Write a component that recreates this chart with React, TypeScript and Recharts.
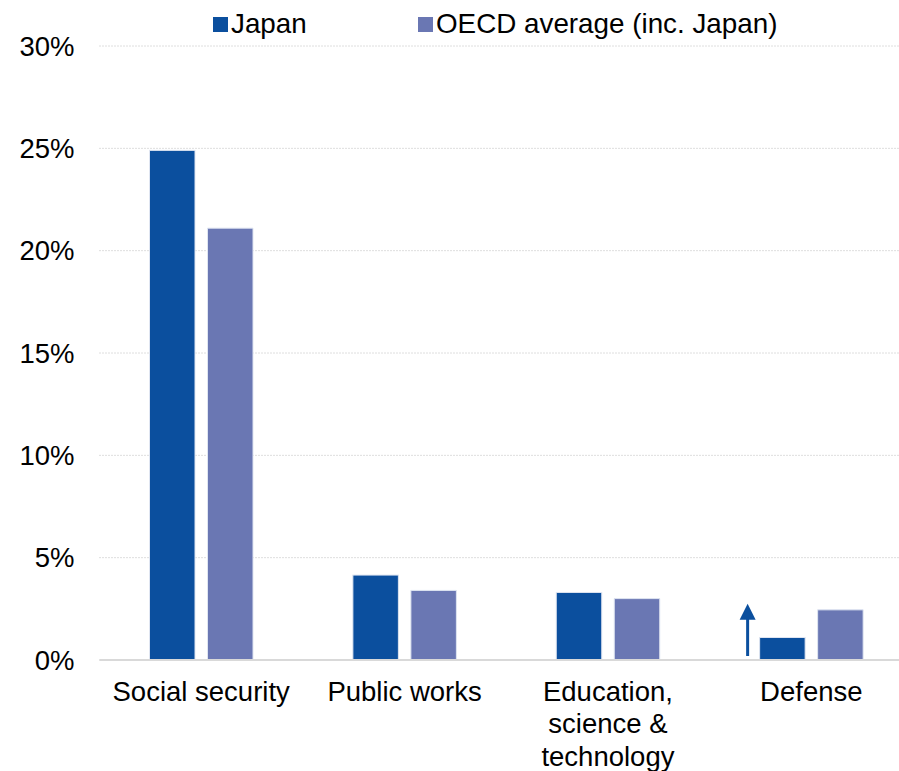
import React from 'react';
import {
  BarChart,
  Bar,
  XAxis,
  YAxis,
  CartesianGrid,
  Legend
} from 'recharts';

const categories = ['Social security', 'Public works', 'Education,\nscience &\ntechnology', 'Defense'];
const japan = [24.9, 4.15, 3.3, 1.1];
const oecd = [21.1, 3.4, 3.0, 2.45];
// where the annotation arrow beside Japan's bar points to
const japanTarget = [null, null, null, 2.75];
const yTicks = [0, 5, 10, 15, 20, 25, 30];

const seriesNames = ['Japan', 'OECD average (inc. Japan)'];
const JAPAN_COLOR = '#0b4f9e';
const OECD_COLOR = '#6a77b3';
const FONT = '"Liberation Sans", Arial, sans-serif';

const data = categories.map((name, i) => ({
  name,
  japan: japan[i],
  oecd: oecd[i],
  target: japanTarget[i]
}));

const CategoryTick = (props: any) => {
  const { x, y, payload } = props;
  const lines = String(payload.value).split('\n');
  return (
    <text x={x} y={y} textAnchor="middle" fill="#000" fontSize={27.5} fontFamily={FONT}>
      {lines.map((line, i) => (
        <tspan key={i} x={x} dy={i === 0 ? '0.71em' : 32.5}>
          {line}
        </tspan>
      ))}
    </text>
  );
};

const JapanBar = (props: any) => {
  const { x, y, width, height, payload, fill } = props;
  const target = payload?.target;
  let arrow = null;
  if (target != null && payload.japan) {
    const perUnit = height / payload.japan;
    const base = y + height;
    const tip = base - target * perUnit;
    const ax = x - 12;
    arrow = (
      <g>
        <line x1={ax} x2={ax} y1={base - 4} y2={tip + 14} stroke={JAPAN_COLOR} strokeWidth={3} />
        <polygon points={`${ax},${tip} ${ax - 8},${tip + 16} ${ax + 8},${tip + 16}`} fill={JAPAN_COLOR} />
      </g>
    );
  }
  return (
    <g>
      <rect x={x} y={y} width={width} height={height} fill={fill} stroke="#dfe5f1" strokeWidth={1} />
      {arrow}
    </g>
  );
};

const LegendContent = () => {
  const items = [
    { label: seriesNames[0], color: JAPAN_COLOR, left: 0 },
    { label: seriesNames[1], color: OECD_COLOR, left: 205 }
  ];
  return (
    <div style={{ position: 'relative', height: 0 }}>
      {items.map((it) => (
        <div
          key={it.label}
          style={{
            position: 'absolute',
            left: it.left,
            top: 0,
            display: 'flex',
            alignItems: 'center',
            whiteSpace: 'nowrap',
            fontFamily: FONT,
            fontSize: 27.8,
            lineHeight: '32px',
            color: '#000'
          }}
        >
          <span style={{ display: 'inline-block', width: 15, height: 15, background: it.color, marginRight: 3 }} />
          {it.label}
        </div>
      ))}
    </div>
  );
};

export default function App() {
  return (
    <div style={{ position: 'absolute', left: 0, top: 0, width: 899, height: 771, overflow: 'hidden', background: '#fff' }}>
      <BarChart
        width={913}
        height={771}
        data={data}
        margin={{ top: 46, right: 0, bottom: 0, left: 0 }}
        barGap={12.5}
        barSize={45.5}
      >
        <CartesianGrid vertical={false} stroke="#bdbdbd" strokeDasharray="1 2" />
        <XAxis
          dataKey="name"
          tick={<CategoryTick />}
          tickLine={false}
          axisLine={{ stroke: '#d9d9d9', strokeWidth: 2 }}
          tickSize={0}
          tickMargin={21}
          height={111}
          interval={0}
        />
        <YAxis
          width={99.5}
          domain={[0, 30]}
          ticks={yTicks}
          tickFormatter={(v: number) => `${v}%`}
          axisLine={false}
          tickLine={false}
          tickSize={0}
          tickMargin={25}
          tick={{ fill: '#000', fontSize: 27.5, fontFamily: FONT }}
        />
        <Legend
          verticalAlign="top"
          content={<LegendContent />}
          wrapperStyle={{ top: 8, left: 213, width: 'auto' }}
        />
        <Bar dataKey="japan" name={seriesNames[0]} fill={JAPAN_COLOR} shape={<JapanBar />} isAnimationActive={false} />
        <Bar dataKey="oecd" name={seriesNames[1]} fill={OECD_COLOR} stroke="#dfe5f1" strokeWidth={1} isAnimationActive={false} />
      </BarChart>
    </div>
  );
}
